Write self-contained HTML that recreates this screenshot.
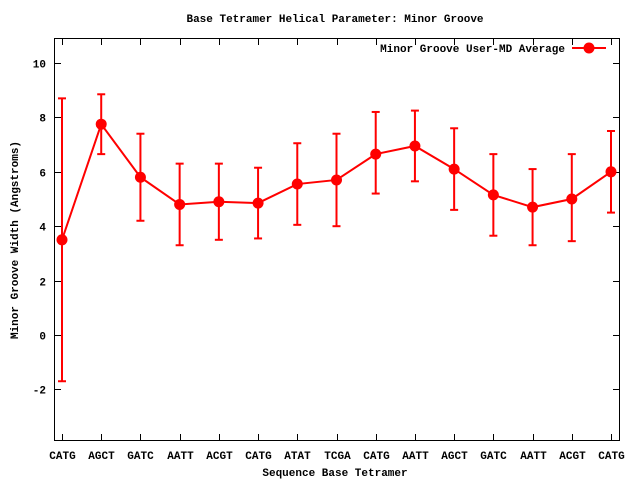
<!DOCTYPE html>
<html><head><meta charset="utf-8"><style>
body{margin:0;background:#fff}
text{font-family:"Liberation Mono","DejaVu Sans Mono",monospace;font-weight:bold;font-size:11px;fill:#000}
</style></head><body>
<svg id="chart" width="640" height="480" xmlns="http://www.w3.org/2000/svg">
<text x="335" y="22" text-anchor="middle">Base Tetramer Helical Parameter: Minor Groove</text>
<text x="335" y="476" text-anchor="middle">Sequence Base Tetramer</text>
<text transform="translate(18,240) rotate(-90)" text-anchor="middle">Minor Groove Width (Angstroms)</text>
<rect x="54.5" y="38.5" width="565" height="402" fill="none" stroke="#000" stroke-width="1"/>
<g id="axes"></g>
<g id="series"></g>
<g>
<text x="565" y="52" text-anchor="end">Minor Groove User-MD Average</text>
<line x1="572" y1="48" x2="606" y2="48" stroke="#f00" stroke-width="2"/>
<circle cx="589" cy="48" r="5.5" fill="#f00"/>
</g>
</svg>
<script>
const categories=["CATG","AGCT","GATC","AATT","ACGT","CATG","ATAT","TCGA","CATG","AATT","AGCT","GATC","AATT","ACGT","CATG"];
const means=[3.5,7.75,5.8,4.8,4.9,4.85,5.55,5.7,6.65,6.95,6.1,5.15,4.7,5.0,6.0];
const lows=[-1.7,6.65,4.2,3.3,3.5,3.55,4.05,4.0,5.2,5.65,4.6,3.65,3.3,3.45,4.5];
const highs=[8.7,8.85,7.4,6.3,6.3,6.15,7.05,7.4,8.2,8.25,7.6,6.65,6.1,6.65,7.5];
const yTicks=[-2,0,2,4,6,8,10];
const NS="http://www.w3.org/2000/svg";
function xs(i){return 62+i*(611-62)/14;}
function ys(v){return 335-v*27.2;}
function mk(tag,attrs,parent){const e=document.createElementNS(NS,tag);for(const k in attrs)e.setAttribute(k,attrs[k]);parent.appendChild(e);return e;}
const ax=document.getElementById('axes');
yTicks.forEach(t=>{
  const y=Math.round(ys(t))+0.5;
  let l=mk('line',{x1:54.5,x2:61,y1:y,y2:y,stroke:'#000'},ax);
  
  
  l=mk('line',{x1:613,x2:619.5,y1:y,y2:y,stroke:'#000'},ax);
  
  
  const tx=mk('text',{x:46,y:y+4,'text-anchor':'end'},ax);
  tx.textContent=t;
  
  
});
categories.forEach((c,i)=>{
  const x=Math.round(xs(i))+0.5;
  let l=mk('line',{x1:x,x2:x,y1:440.5,y2:434,stroke:'#000'},ax);
  
  
  l=mk('line',{x1:x,x2:x,y1:38.5,y2:45,stroke:'#000'},ax);
  
  
  const tx=mk('text',{x:x,y:459,'text-anchor':'middle'},ax);
  tx.textContent=c;
  
  
});
const sg=document.getElementById('series');
const pts=means.map((v,i)=>xs(i)+','+ys(v)).join(' ');
const pl=mk('polyline',{points:pts,fill:'none',stroke:'#f00','stroke-width':2},sg);


means.forEach((v,i)=>{
  const x=xs(i);
  const g=mk('g',{},sg);
  
  
  mk('line',{x1:x,x2:x,y1:ys(lows[i]),y2:ys(highs[i]),stroke:'#f00','stroke-width':2},g);
  mk('line',{x1:x-4,x2:x+4,y1:ys(lows[i]),y2:ys(lows[i]),stroke:'#f00','stroke-width':2},g);
  mk('line',{x1:x-4,x2:x+4,y1:ys(highs[i]),y2:ys(highs[i]),stroke:'#f00','stroke-width':2},g);
  const c=mk('circle',{cx:x,cy:ys(v),r:5.5,fill:'#f00'},sg);
  
  
});
</script>
</body></html>
